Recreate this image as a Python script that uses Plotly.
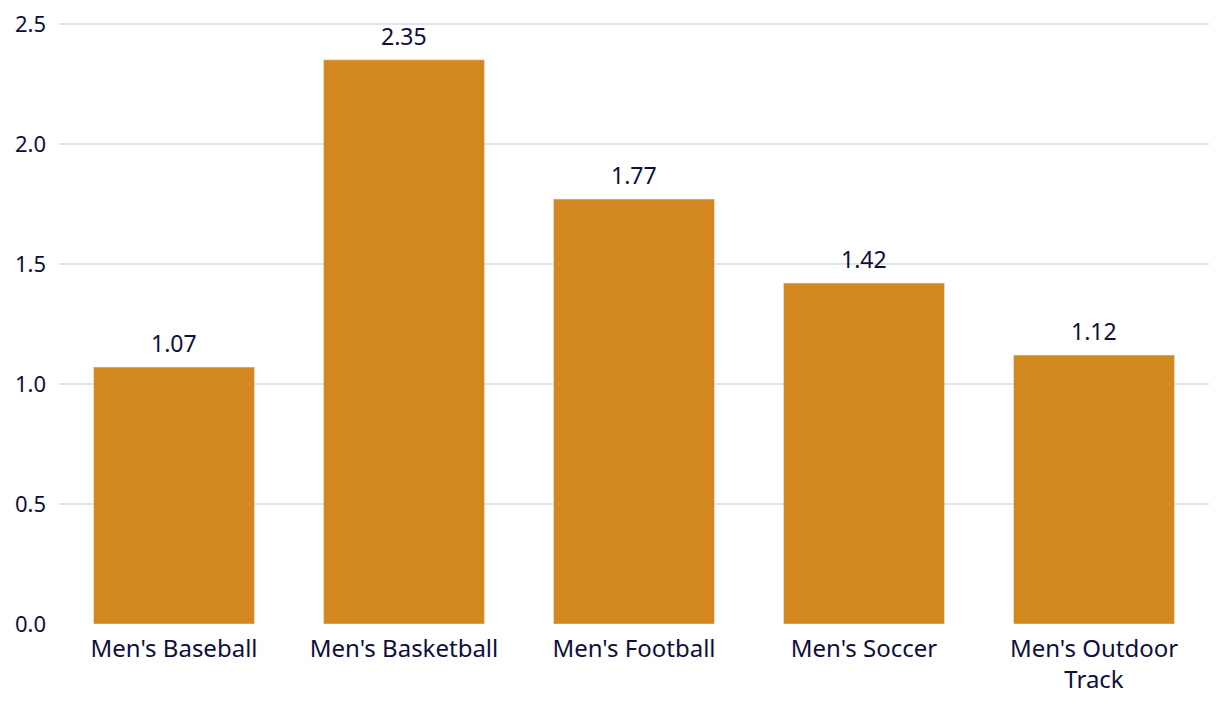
import plotly.graph_objects as go

categories = ["Men's Baseball", "Men's Basketball", "Men's Football", "Men's Soccer", "Men's Outdoor<br>Track"]
values = [1.07, 2.35, 1.77, 1.42, 1.12]
value_labels = ["1.07", "2.35", "1.77", "1.42", "1.12"]
y_ticks = [0, 0.5, 1.0, 1.5, 2.0, 2.5]
y_tick_labels = ["0.0", "0.5", "1.0", "1.5", "2.0", "2.5"]

FONT = "Noto Sans"
NAVY = "#0f0f3d"
BAR = "#D38920"

fig = go.Figure()
fig.add_trace(go.Bar(x=categories, y=values, marker_color=BAR, width=0.7,
                     hoverinfo="skip"))

for c, v, t in zip(categories, values, value_labels):
    fig.add_annotation(x=c, y=v, text=t, showarrow=False, yanchor="bottom",
                       yshift=6, font=dict(family=FONT, size=23, color=NAVY))

fig.update_layout(
    width=1212, height=702,
    margin=dict(l=51, r=11, t=11, b=86, autoexpand=False),
    plot_bgcolor="white", paper_bgcolor="white",
    showlegend=False,
    font=dict(family=FONT, size=22, color=NAVY),
    bargap=0.3,
)
fig.update_xaxes(showgrid=False, showline=False, zeroline=False,
                 ticklabelstandoff=8,
                 tickfont=dict(family=FONT, size=24, color=NAVY))
fig.update_yaxes(range=[0, 2.52], tickvals=y_ticks, ticktext=y_tick_labels,
                 showgrid=True, gridcolor="#e3e3e3", gridwidth=2,
                 zeroline=False, showline=False, ticklabelstandoff=12,
                 ticklabeloverflow="allow",
                 tickfont=dict(family=FONT, size=22, color=NAVY))

fig.write_html("out.html")
